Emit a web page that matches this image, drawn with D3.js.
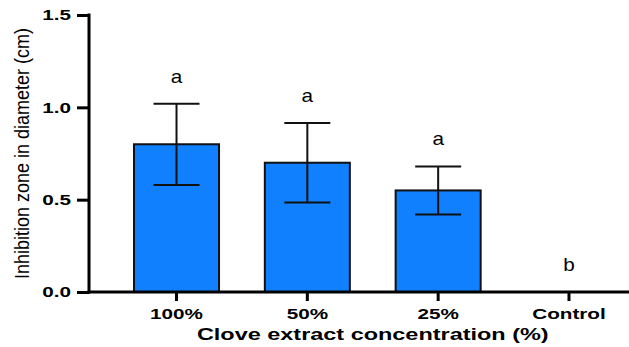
<!DOCTYPE html>
<html>
<head>
<meta charset="utf-8">
<script src="https://cdn.jsdelivr.net/npm/d3@7"></script>
<style>
  body { margin: 0; background: #fff; }
  svg { display: block; }
  text { font-family: "Liberation Sans", Arial, sans-serif; fill: #000; }
</style>
</head>
<body>
<div id="chart"></div>
<script>
// data
const categories = ['100%', '50%', '25%', 'Control'];
const means = [0.80, 0.70, 0.55, 0];
const errors = [0.22, 0.215, 0.13, 0];
const letters = ['a', 'a', 'a', 'b'];
const yTicks = [0, 0.5, 1.0, 1.5];

const width = 629, height = 347;
const axisX = 89, axisY = 292;
const sx = 1.38; // the figure's text is stretched horizontally

const svg = d3.select('#chart').append('svg')
    .attr('width', width)
    .attr('height', height);

const x = d3.scaleBand()
    .domain(categories)
    .range([134, 611.5])
    .paddingInner(0.35)
    .paddingOuter(0);

const y = d3.scaleLinear()
    .domain([0, 1.5])
    .range([axisY, 15]);

const rows = categories.map((c, i) => ({cat: c, mean: means[i], err: errors[i], letter: letters[i]}));
const cx = d => x(d.cat) + x.bandwidth() / 2;

// bars
svg.append('g')
    .selectAll('rect')
    .data(rows.filter(d => d.mean > 0))
    .join('rect')
    .attr('x', d => x(d.cat))
    .attr('y', d => y(d.mean))
    .attr('width', x.bandwidth())
    .attr('height', d => y(0) - y(d.mean))
    .attr('fill', '#1080ff')
    .attr('stroke', '#111')
    .attr('stroke-width', 2);

// error bars
const capW = 46;
const eb = svg.append('g')
    .selectAll('g')
    .data(rows.filter(d => d.err > 0))
    .join('g')
    .attr('stroke', '#111')
    .attr('stroke-width', 2);
eb.append('line')
    .attr('x1', cx).attr('x2', cx)
    .attr('y1', d => y(d.mean + d.err))
    .attr('y2', d => y(d.mean - d.err));
eb.append('line')
    .attr('x1', d => cx(d) - capW / 2)
    .attr('x2', d => cx(d) + capW / 2)
    .attr('y1', d => y(d.mean + d.err))
    .attr('y2', d => y(d.mean + d.err));
eb.append('line')
    .attr('x1', d => cx(d) - capW / 2)
    .attr('x2', d => cx(d) + capW / 2)
    .attr('y1', d => y(d.mean - d.err))
    .attr('y2', d => y(d.mean - d.err));

// significance letters
svg.append('g')
    .selectAll('text')
    .data(rows)
    .join('text')
    .attr('transform', d => `translate(${cx(d)},${y(d.mean + d.err) - 21}) scale(1.15,1)`)
    .attr('text-anchor', 'middle')
    .attr('font-size', 18)
    .text(d => d.letter);

// y axis
const yAxis = svg.append('g')
    .attr('transform', `translate(${axisX},0)`)
    .call(d3.axisLeft(y).tickValues(yTicks).tickFormat(d3.format('.1f')).tickSize(12).tickPadding(6));
yAxis.select('.domain').attr('d', `M0,${y(1.5) - 1.5}V${axisY + 1.5}`).attr('stroke', '#000').attr('stroke-width', 3);
yAxis.selectAll('.tick line').attr('stroke', '#000').attr('stroke-width', 3);
yAxis.selectAll('.tick text')
    .attr('font-size', 15).attr('font-weight', 'bold')
    .attr('font-family', '"Liberation Sans", Arial, sans-serif').attr('fill', '#000')
    .attr('x', -18 / sx)
    .attr('transform', `scale(${sx},1)`);

// x axis
const xAxis = svg.append('g')
    .attr('transform', `translate(0,${axisY})`)
    .call(d3.axisBottom(x).tickSize(9).tickPadding(7));
xAxis.select('.domain').attr('d', `M${axisX - 1.5},0H${width}`).attr('stroke', '#000').attr('stroke-width', 3);
xAxis.selectAll('.tick line').attr('stroke', '#000').attr('stroke-width', 3);
xAxis.selectAll('.tick text')
    .attr('font-size', 15).attr('font-weight', 'bold')
    .attr('font-family', '"Liberation Sans", Arial, sans-serif').attr('fill', '#000')
    .attr('transform', `scale(${sx},1)`);

// axis titles
svg.append('text')
    .attr('transform', `translate(${(x(categories[0]) + x(categories[3]) + x.bandwidth()) / 2},340) scale(${sx},1)`)
    .attr('text-anchor', 'middle')
    .attr('font-size', 17)
    .attr('font-weight', 'bold')
    .text('Clove extract concentration (%)');

svg.append('text')
    .attr('transform', `translate(29,${(axisY + 15) / 2}) rotate(-90) scale(1,1.15)`)
    .attr('text-anchor', 'middle')
    .attr('font-size', 18)
    .text('Inhibition zone in diameter (cm)');
</script>
</body>
</html>
